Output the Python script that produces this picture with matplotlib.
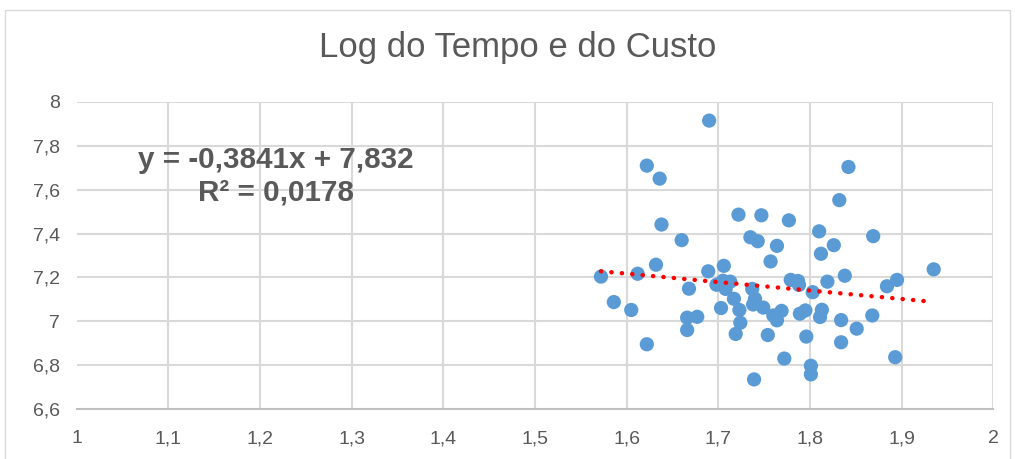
import matplotlib
matplotlib.use("Agg")
import matplotlib.pyplot as plt
from matplotlib.lines import Line2D
from matplotlib.ticker import FixedLocator, FuncFormatter

# Log do tempo (x) e log do custo (y)
log_tempo = [
    1.690, 1.622, 1.636, 1.638, 1.660, 1.632, 1.572, 1.612, 1.586, 1.605,
    1.622, 1.668, 1.666, 1.677, 1.666, 1.689, 1.706, 1.722, 1.747, 1.735,
    1.743, 1.764, 1.757, 1.698, 1.705, 1.708, 1.713, 1.703, 1.717, 1.723,
    1.724, 1.719, 1.737, 1.740, 1.738, 1.749, 1.760, 1.764, 1.754, 1.739,
    1.772, 1.842, 1.832, 1.777, 1.810, 1.869, 1.826, 1.812, 1.838, 1.935,
    1.779, 1.787, 1.788, 1.819, 1.803, 1.884, 1.895, 1.769, 1.789, 1.795,
    1.813, 1.811, 1.834, 1.868, 1.851, 1.796, 1.834, 1.801, 1.801, 1.893,
]
log_custo = [
    7.914, 7.709, 7.650, 7.441, 7.370, 7.258, 7.204, 7.217, 7.088, 7.052,
    6.896, 7.149, 7.017, 7.021, 6.961, 7.228, 7.253, 7.486, 7.483, 7.383,
    7.365, 7.344, 7.273, 7.167, 7.185, 7.148, 7.181, 7.061, 7.103, 7.052,
    6.994, 6.943, 7.148, 7.103, 7.077, 7.063, 7.027, 7.005, 6.938, 6.736,
    6.831, 7.703, 7.552, 7.460, 7.410, 7.388, 7.347, 7.308, 7.208, 7.237,
    7.189, 7.184, 7.166, 7.181, 7.133, 7.160, 7.189, 7.048, 7.035, 7.050,
    7.053, 7.020, 7.006, 7.027, 6.967, 6.931, 6.905, 6.798, 6.759, 6.837,
]

# Linear trend reported for the series
slope = -0.3841
intercept = 7.832
r_squared = 0.0178

x_ticks = [1.0, 1.1, 1.2, 1.3, 1.4, 1.5, 1.6, 1.7, 1.8, 1.9, 2.0]
y_ticks = [6.6, 6.8, 7.0, 7.2, 7.4, 7.6, 7.8, 8.0]

plt.rcParams["font.family"] = ["Liberation Sans", "DejaVu Sans"]
text_grey = "#595959"
grid_grey = "#d9d9d9"

fig = plt.figure(figsize=(10.15, 4.59), dpi=100)
ax = fig.add_axes([0.0756, 0.1083, 0.9030, 0.6701])

# outer chart frame
frame = Line2D([5 / 1015, 5 / 1015, 1010 / 1015, 1010 / 1015],
               [0.0, 1 - 10 / 459, 1 - 10 / 459, 0.0],
               transform=fig.transFigure, color=grid_grey, lw=1.0)
fig.add_artist(frame)

ax.set_xlim(1.0, 2.0)
ax.set_ylim(6.6, 8.0)

# gridlines (none over the hidden vertical axis or the bottom axis)
for xv in x_ticks[1:]:
    ax.axvline(xv, color=grid_grey, lw=1.5, zorder=0)
for yv in y_ticks[1:]:
    ax.axhline(yv, color=grid_grey, lw=1.5, zorder=0)

for side in ["top", "right", "left"]:
    ax.spines[side].set_visible(False)
ax.spines["bottom"].set_color("#bfbfbf")
ax.spines["bottom"].set_linewidth(1.5)

ax.scatter(log_tempo, log_custo, s=105, color="#5b9bd5", edgecolors="none",
           zorder=3)

x_lo, x_hi = min(log_tempo), max(log_tempo)
ax.plot([x_lo, x_hi], [slope * x_lo + intercept, slope * x_hi + intercept],
        color="#ff0000", lw=3.2, linestyle=(0, (0.05, 2.3)),
        dash_capstyle="round", zorder=4)

fmt = FuncFormatter(lambda v, p: (f"{v:.1f}".rstrip("0").rstrip(".")).replace(".", ","))
ax.xaxis.set_major_locator(FixedLocator(x_ticks))
ax.yaxis.set_major_locator(FixedLocator(y_ticks))
ax.xaxis.set_major_formatter(fmt)
ax.yaxis.set_major_formatter(fmt)
ax.tick_params(axis="both", length=0, labelsize=14, labelcolor=text_grey)
ax.tick_params(axis="x", pad=15)
ax.tick_params(axis="y", pad=12)

fig.text(0.5105, 1 - 48 / 459, "Log do Tempo e do Custo", ha="center",
         va="center", fontsize=25, color=text_grey)

eq = f"y = {slope:.4f}x + {intercept:.3f}".replace(".", ",")
r2 = f"R² = {r_squared:.4f}".replace(".", ",")
fig.text(276 / 1015, 1 - 160 / 459, eq, ha="center", va="center",
         fontsize=21.3, fontweight="bold", color=text_grey)
fig.text(276 / 1015, 1 - 192 / 459, r2, ha="center", va="center",
         fontsize=21.3, fontweight="bold", color=text_grey)

fig.savefig("out.png", dpi=100)
